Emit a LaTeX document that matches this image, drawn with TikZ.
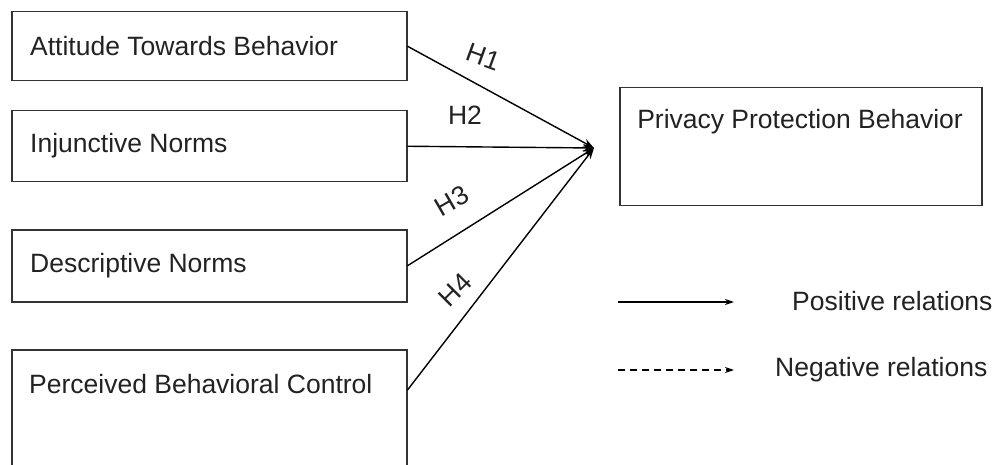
\documentclass[tikz,border=0pt]{standalone}
\usepackage{fontspec}
\setmainfont{Liberation Sans}
\usetikzlibrary{arrows.meta,calc}
\definecolor{inkgray}{HTML}{333333}
\definecolor{txtgray}{HTML}{222222}
\tikzset{
  factorbox/.style={draw=inkgray, line width=1.5pt, rectangle, inner sep=0pt, anchor=north west},
  boxtext/.style={anchor=west, inner sep=0pt, text=txtgray, font=\fontsize{26.5}{30}\selectfont},
  hlabel/.style={inner sep=0pt, text=txtgray, font=\fontsize{26.5}{30}\selectfont},
  link/.style={draw=black, line width=1.4pt, -{Stealth[length=11pt,width=8pt]}},
  legendarrow/.style={draw=black, line width=1.4pt, -{Stealth[length=9pt,width=6pt]}}
}
\begin{document}
\begin{tikzpicture}[x=1pt,y=-1pt]
\useasboundingbox (0,0) rectangle (993,465);

% predictor boxes
\node[factorbox, minimum width=395pt, minimum height=69pt] (att) at (11,11) {};
\node[factorbox, minimum width=395pt, minimum height=71pt] (inj) at (11,110) {};
\node[factorbox, minimum width=395pt, minimum height=72pt] (des) at (11,229) {};
\node[factorbox, minimum width=395pt, minimum height=130pt] (pbc) at (11,349) {};

\node[boxtext] (attT) at (30,46) {Attitude Towards Behavior};
\node[boxtext] (injT) at (30,146) {Injunctive Norms};
\node[boxtext] (desT) at (30,266) {Descriptive Norms};
\node[boxtext] (pbcT) at (29,384) {Perceived Behavioral Control};

% outcome box
\node[factorbox, minimum width=362pt, minimum height=118pt] (ppb) at (619,87) {};
\node[hlabel] (ppbT) at (800,122) {Privacy Protection Behavior};

% hypothesised paths
\coordinate (tip) at (594,148);
\coordinate (pbcOut) at ($(pbc.north east)+(0,41)$);
\draw[link] (att.east) -- (tip);
\draw[link] (inj.east) -- (tip);
\draw[link] (des.east) -- (tip);
\draw[link] (pbcOut) -- (tip);

\node[hlabel, rotate=-20] (h1) at (484,57) {H1};
\node[hlabel] (h2) at (465,115) {H2};
\node[hlabel, rotate=30] (h3) at (452,201) {H3};
\node[hlabel, rotate=45] (h4) at (455,290) {H4};

% legend
\coordinate (posA) at (618,302);
\coordinate (posB) at (734,302);
\coordinate (negA) at (618,370);
\coordinate (negB) at (734,370);
\draw[legendarrow] (posA) -- (posB);
\draw[legendarrow, dash pattern=on 7pt off 5pt] (negA) -- (negB);
\node[boxtext] (posT) at (792,301) {Positive relations};
\node[boxtext] (negT) at (775,370) {Negative relations};
\end{tikzpicture}
\end{document}
